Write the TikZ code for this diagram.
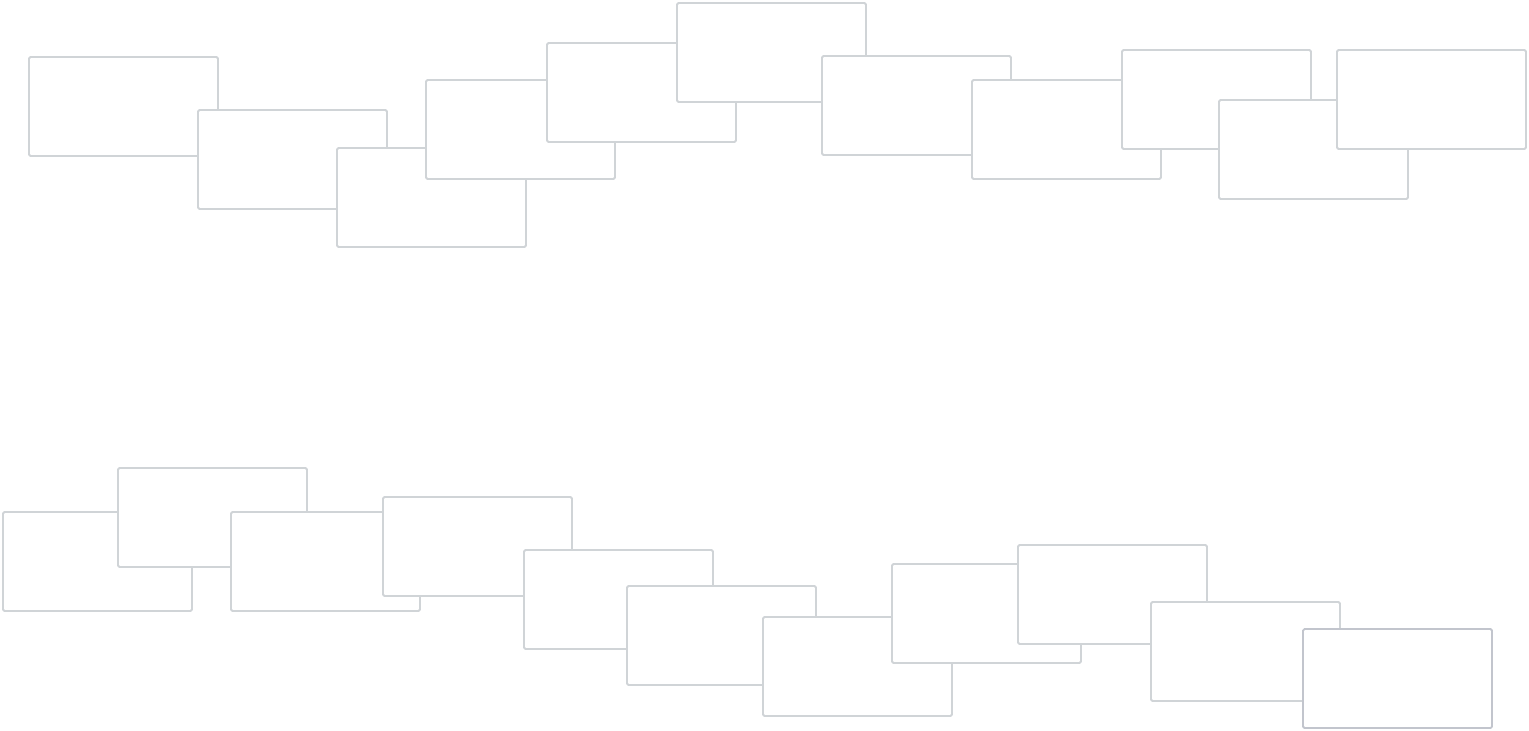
\documentclass[tikz,border=0pt]{standalone}
\begin{document}
\begin{tikzpicture}[x=1pt,y=-1pt,
  card/.style={draw=cardgray,fill=white,line width=1.8pt,rounded corners=1.5pt,
    minimum width=189pt,minimum height=99pt,inner sep=0pt,anchor=north west,outer sep=0pt},
  lastcard/.style={card,draw=lastgray}]
\definecolor{cardgray}{HTML}{D0D4D7}
\definecolor{lastgray}{HTML}{C2C5CD}
\useasboundingbox[fill=white] (0,0) rectangle (1529,731);
% top row
\node[card] (t1) at (29,57) {};
\node[card] (t2) at (198,110) {};
\node[card] (t3) at (337,148) {};
\node[card] (t4) at (426,80) {};
\node[card] (t5) at (547,43) {};
\node[card] (t6) at (677,3) {};
\node[card] (t7) at (822,56) {};
\node[card] (t8) at (972,80) {};
\node[card] (t9) at (1122,50) {};
\node[card] (t10) at (1219,100) {};
\node[card] (t11) at (1337,50) {};
% bottom row
\node[card] (b1) at (3,512) {};
\node[card] (b2) at (118,468) {};
\node[card] (b3) at (231,512) {};
\node[card] (b4) at (383,497) {};
\node[card] (b5) at (524,550) {};
\node[card] (b6) at (627,586) {};
\node[card] (b7) at (763,617) {};
\node[card] (b8) at (892,564) {};
\node[card] (b9) at (1018,545) {};
\node[card] (b10) at (1151,602) {};
\node[lastcard] (b11) at (1303,629) {};
\end{tikzpicture}
\end{document}
